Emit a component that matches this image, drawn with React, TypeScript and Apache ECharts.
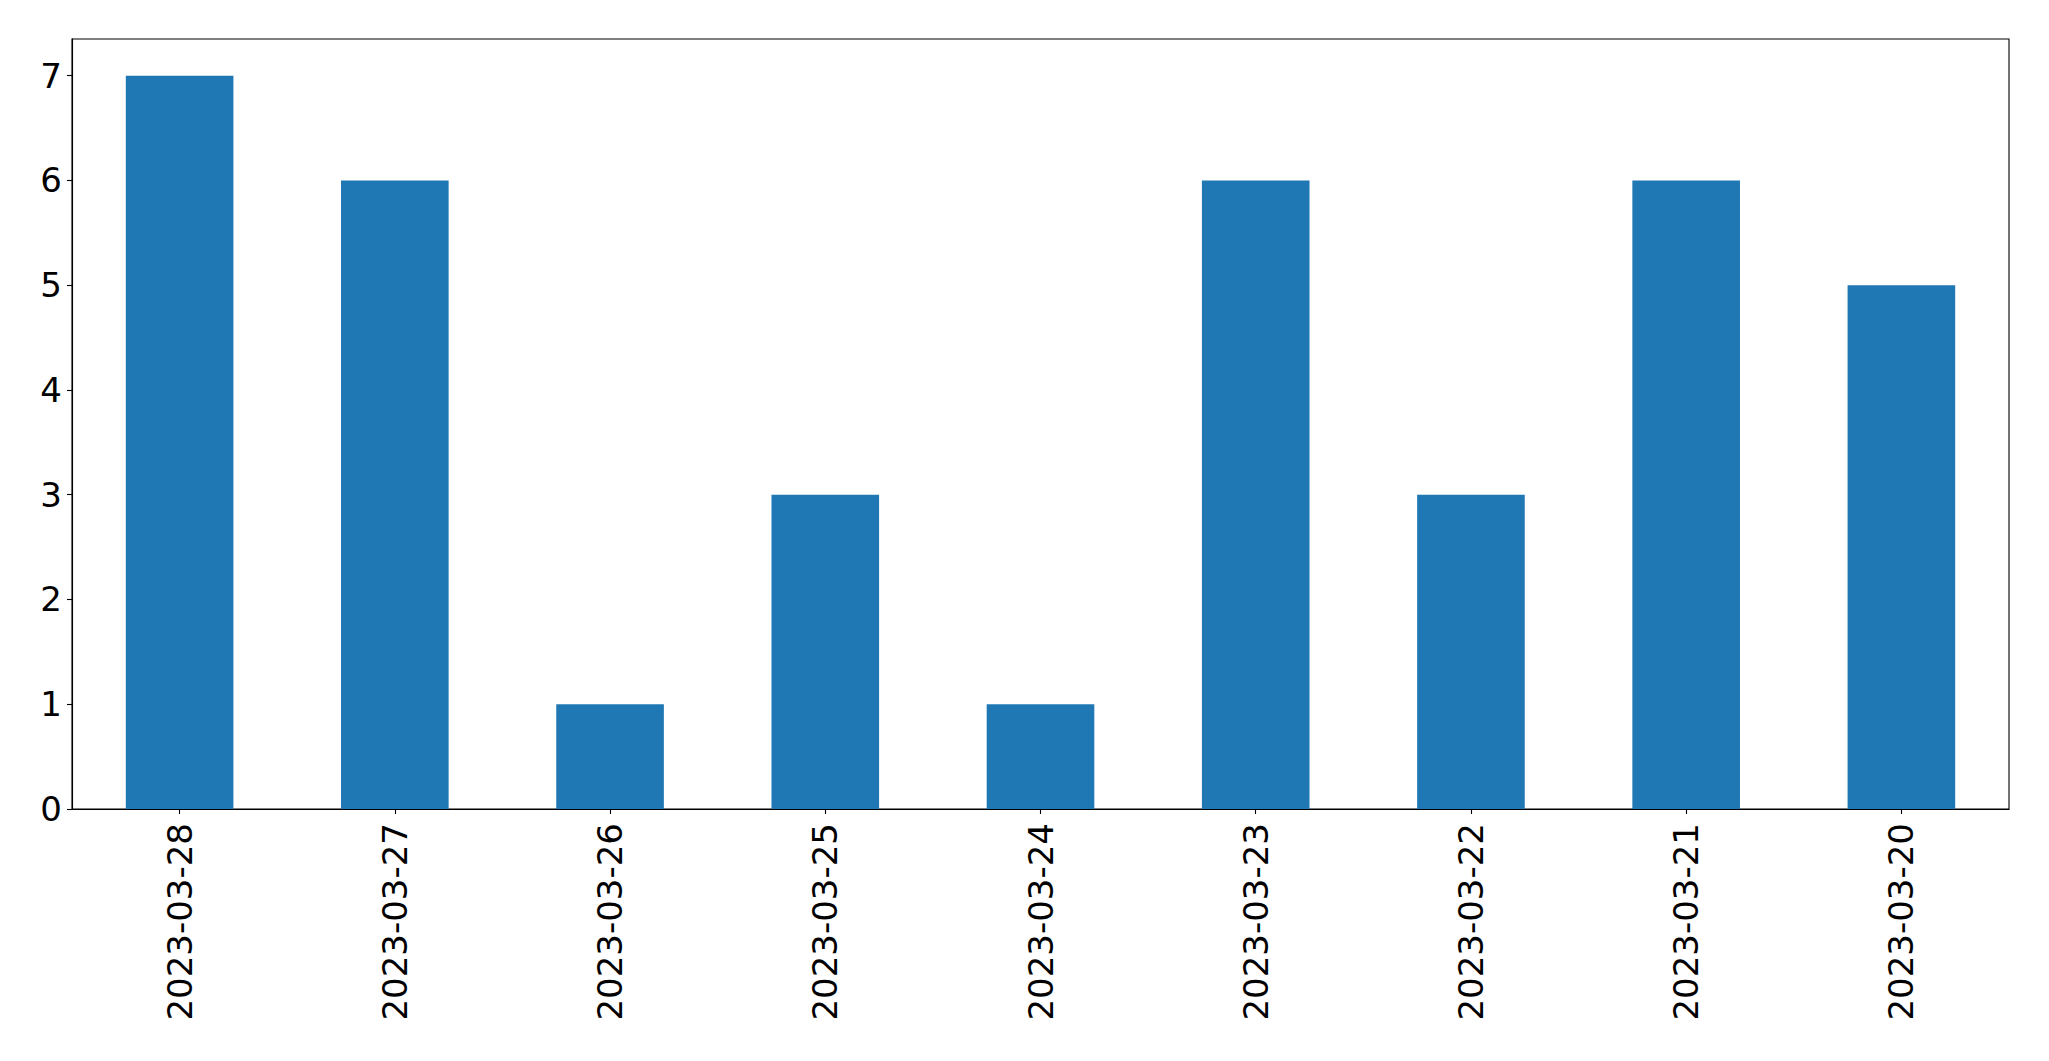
import React, { useEffect, useRef } from "react";
import * as echarts from "echarts";

const categories = [
  "2023-03-28",
  "2023-03-27",
  "2023-03-26",
  "2023-03-25",
  "2023-03-24",
  "2023-03-23",
  "2023-03-22",
  "2023-03-21",
  "2023-03-20",
];
const counts = [7, 6, 1, 3, 1, 6, 3, 6, 5];
const yTicks = [0, 1, 2, 3, 4, 5, 6, 7];
const yMax = 7.35;

export default function App() {
  const ref = useRef<HTMLDivElement>(null);
  useEffect(() => {
    if (!ref.current) return;
    const chart = echarts.init(ref.current, null, { renderer: "svg" });
    const font = "DejaVu Sans";
    chart.setOption({
      animation: false,
      backgroundColor: "#ffffff",
      grid: {
        left: 72,
        right: 40,
        top: 39,
        bottom: 252,
        show: true,
        borderColor: "#000000",
        borderWidth: 1.1,
        containLabel: false,
      },
      xAxis: {
        type: "category",
        data: categories,
        boundaryGap: true,
        axisLine: { show: true, lineStyle: { color: "#000000", width: 1.1 } },
        axisTick: { show: true, alignWithLabel: true, length: 5, lineStyle: { color: "#000000", width: 1.1 } },
        axisLabel: {
          rotate: 90,
          margin: 14,
          color: "#000000",
          fontFamily: font,
          fontSize: 34,
          interval: 0,
        },
        splitLine: { show: false },
      },
      yAxis: {
        type: "value",
        min: 0,
        max: yMax,
        interval: 1,
        axisLine: { show: true, lineStyle: { color: "#000000", width: 1.1 } },
        axisTick: { show: true, length: 5, customValues: yTicks, lineStyle: { color: "#000000", width: 1.1 } },
        axisLabel: {
          margin: 10,
          color: "#000000",
          fontFamily: font,
          fontSize: 34,
          customValues: yTicks,
        },
        splitLine: { show: false },
      },
      series: [
        {
          type: "bar",
          data: counts,
          barWidth: "50%",
          itemStyle: { color: "#1f77b4" },
        },
      ],
    });
    return () => chart.dispose();
  }, []);
  return (
    <div
      ref={ref}
      style={{ position: "fixed", left: 0, top: 0, width: 2049, height: 1061, background: "#fff" }}
    />
  );
}
